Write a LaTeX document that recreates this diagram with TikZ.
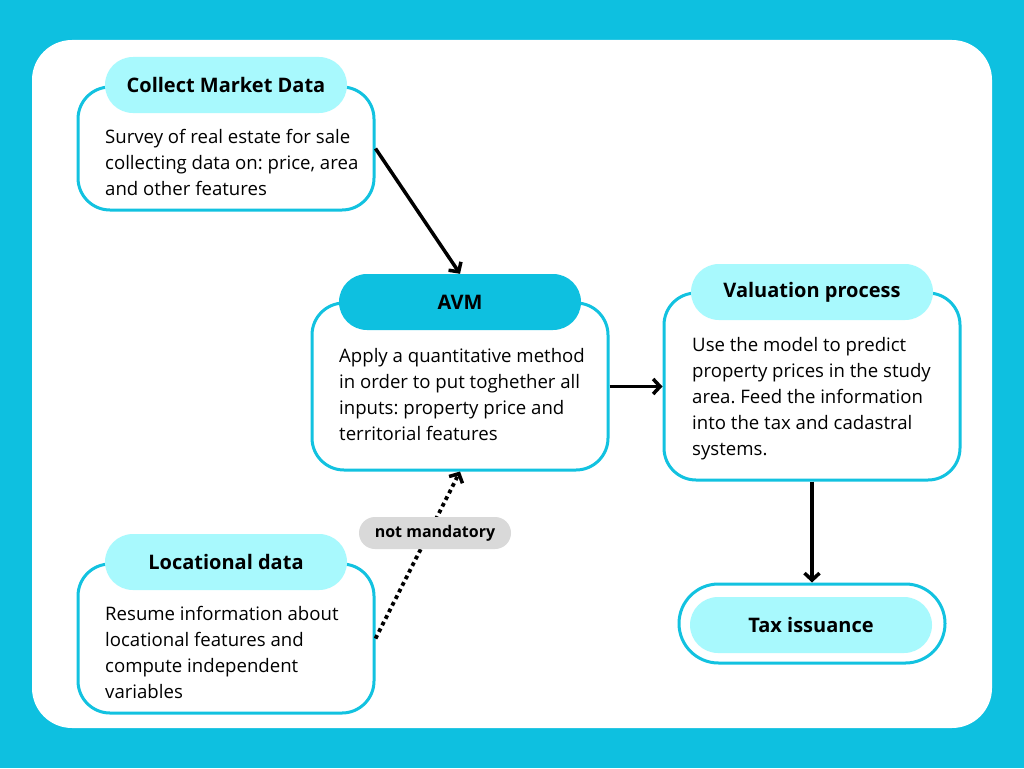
\documentclass[tikz,border=0pt]{standalone}
\usepackage{fontspec}
\setmainfont{Open Sans}
\usetikzlibrary{arrows.meta}
\definecolor{bgcyan}{HTML}{0EC0E0}
\definecolor{bordercyan}{HTML}{12C2E0}
\definecolor{lightcyan}{HTML}{A8F9FD}
\definecolor{pillgray}{HTML}{D9D9D9}
\tikzset{
  box/.style={draw=bordercyan, line width=3pt, fill=white, rounded corners=32pt, inner sep=0pt, minimum width=296pt},
  head/.style={fill=lightcyan, rounded corners=28pt, minimum width=242pt, minimum height=56pt, inner sep=0pt, font=\fontsize{20}{24}\selectfont\bfseries},
  body/.style={anchor=north west, inner sep=0pt, align=left, font=\fontsize{18.6}{26}\selectfont\frenchspacing},
  arr/.style={line width=3.5pt, -{Straight Barb[length=7pt,width=15pt]}},
  dotarr/.style={line width=3.8pt, dash pattern=on 3.8pt off 3.6pt, -{Straight Barb[length=7pt,width=15pt,line width=3.5pt]}},
  tag/.style={fill=pillgray, rounded corners=16pt, minimum width=152pt, minimum height=32pt, inner sep=0pt, font=\fontsize{16}{18}\selectfont\bfseries}
}
\begin{document}
\begin{tikzpicture}[x=1pt,y=-1pt]
\fill[bgcyan] (0,0) rectangle (1024,768);
\useasboundingbox (0,0) rectangle (1024,768);
\fill[white, rounded corners=40pt] (32,40) rectangle (992,728);

% Collect Market Data
\node[box, minimum height=123pt] (collect) at (226,148.5) {};
\node[head] (collecthead) at (226,85) {Collect Market Data};
\node[body] (collecttext) at (105,129) {Survey of real estate for sale\\collecting data on: price, area\\and other features};

% AVM
\node[box, minimum height=167pt] (avm) at (460,386.5) {};
\node[head, fill=bgcyan] (avmhead) at (460,302) {AVM};
\node[body] (avmtext) at (339,348) {Apply a quantitative method\\in order to put toghether all\\inputs: property price and\\territorial features};

% Valuation process
\node[box, minimum height=187pt] (val) at (812,386.5) {};
\node[head] (valhead) at (812,292) {Valuation process};
\node[body] (valtext) at (692,337) {Use the model to predict\\property prices in the study\\area. Feed the information\\into the tax and cadastral\\systems.};

% Locational data
\node[box, minimum height=149pt] (loc) at (226,638.5) {};
\node[head] (lochead) at (226,562) {Locational data};
\node[body] (loctext) at (105,606) {Resume information about\\locational features and\\compute independent\\variables};

% Tax issuance
\node[box, minimum width=266pt, minimum height=79pt, rounded corners=39.5pt] (tax) at (812,623.5) {};
\node[head] (taxhead) at (811,625) {Tax issuance};

% connectors
\draw[arr] (collect.east) -- (avmhead.north);
\draw[arr] (avm.east) -- (val.west);
\draw[arr] (val.south) -- (tax.north);
\draw[dotarr] (loc.east) -- (avm.south);
\node[tag] (optional) at (435,533) {not mandatory};
\end{tikzpicture}
\end{document}
